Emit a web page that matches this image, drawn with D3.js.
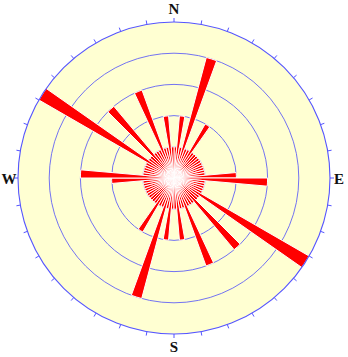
<!DOCTYPE html>
<html>
<head>
<meta charset="utf-8">
<title>Rose diagram</title>
<script src="https://cdn.jsdelivr.net/npm/d3@7/dist/d3.min.js"></script>
<style>
  body { margin: 0; background: #fff; }
  text.dir { font: bold 15px "Liberation Serif", "DejaVu Serif", serif; fill: #111; }
</style>
</head>
<body>
<div id="chart"></div>
<script>
// 5 degree bins (axial data, 0-180), each one is drawn again at +180
const binStart = [0, 5, 10, 15, 20, 25, 30, 35, 40, 45, 50, 55, 60, 65, 70, 75, 80, 85,
                  90, 95, 100, 105, 110, 115, 120, 125, 130, 135, 140, 145, 150, 155, 160, 165, 170, 175];
const counts   = [1, 2, 1, 4, 1, 1, 2, 1, 1, 1, 1, 1, 1, 1, 1, 1, 1, 2,
                  3, 1, 1, 1, 1, 1, 5, 1, 1, 3, 1, 1, 1, 3, 1, 1, 2, 1];
const binWidth = 5;
const ringCounts = [1, 2, 3, 4, 5];
const compass = [
  {label: "N", x: 0,    y: -164},
  {label: "E", x: 165,  y: 5.5},
  {label: "S", x: 0,    y: 174},
  {label: "W", x: -165, y: 5.5}
];

const width = 348, height = 357;
const cx = 174, cy = 178, R = 156;

const svg = d3.select("#chart").append("svg")
    .attr("width", width)
    .attr("height", height);

const g = svg.append("g").attr("transform", `translate(${cx},${cy})`);

const r = d3.scaleLinear().domain([0, 5]).range([0, R]);
const rad = d => d * Math.PI / 180;

// background disk
g.append("circle").attr("r", R).attr("fill", "#ffffd2");

// inner rings
g.selectAll("circle.ring")
  .data(ringCounts.slice(0, -1))
  .join("circle")
    .attr("class", "ring")
    .attr("r", d => r(d))
    .attr("fill", "none")
    .attr("stroke", "#7373f2")
    .attr("stroke-width", 1);

// petals (axial: each bin plus its opposite)
const petals = [];
binStart.forEach((a, i) => {
  petals.push({a0: a, n: counts[i]});
  petals.push({a0: a + 180, n: counts[i]});
});

const arc = d3.arc()
    .innerRadius(0)
    .outerRadius(d => r(d.n))
    .startAngle(d => rad(d.a0))
    .endAngle(d => rad(d.a0 + binWidth));

g.selectAll("path.petal")
  .data(petals)
  .join("path")
    .attr("class", "petal")
    .attr("d", arc)
    .attr("fill", "#ff0000")
    .attr("stroke", "#ffffff")
    .attr("stroke-width", 1)
    .attr("stroke-linejoin", "round");

// outer circle
g.append("circle")
    .attr("r", R)
    .attr("fill", "none")
    .attr("stroke", "#5555ff")
    .attr("stroke-width", 1.1);

// ticks every 10 degrees
const tickAngles = d3.range(0, 360, 10);
g.selectAll("line.tick")
  .data(tickAngles)
  .join("line")
    .attr("class", "tick")
    .attr("x1", d => Math.sin(rad(d)) * R)
    .attr("y1", d => -Math.cos(rad(d)) * R)
    .attr("x2", d => Math.sin(rad(d)) * (R + 4))
    .attr("y2", d => -Math.cos(rad(d)) * (R + 4))
    .attr("stroke", "#5555ff")
    .attr("stroke-width", 1);

// compass labels
g.selectAll("text.dir")
  .data(compass)
  .join("text")
    .attr("class", "dir")
    .attr("text-anchor", "middle")
    .attr("x", d => d.x)
    .attr("y", d => d.y)
    .text(d => d.label);
</script>
</body>
</html>
